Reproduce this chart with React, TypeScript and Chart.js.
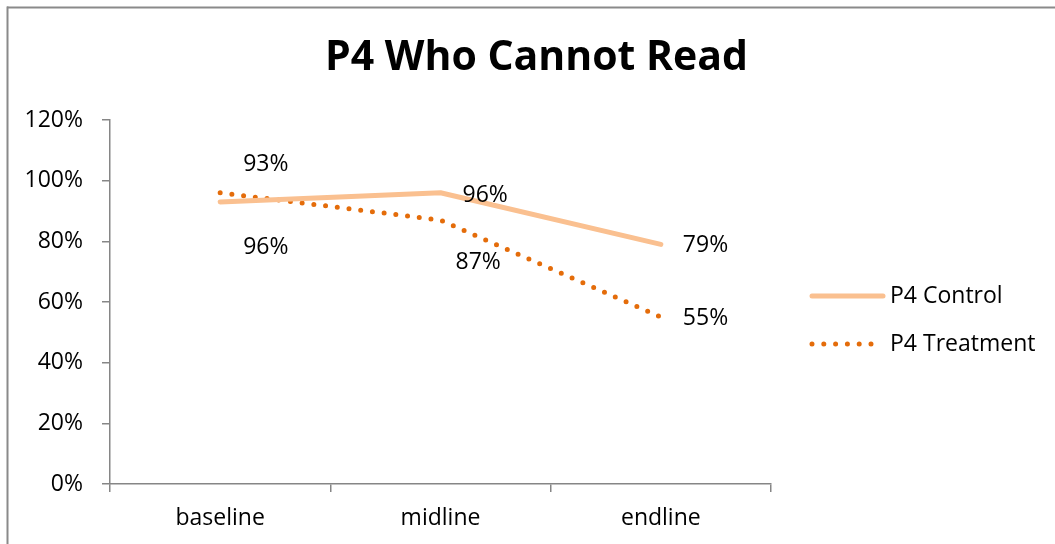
import React, { useEffect, useRef } from "react";
import { Chart, registerables } from "chart.js";

Chart.register(...registerables);

const titleText = "P4 Who Cannot Read";
const categories = ["baseline", "midline", "endline"];
const seriesNames = ["P4 Control", "P4 Treatment"];
const controlValues = [93, 96, 79];
const treatmentValues = [96, 87, 55];
const yTickValues = [0, 20, 40, 60, 80, 100, 120];

// label placement offsets relative to each point (px)
const labelOffsets = [
  [[23, -37], [22, 3], [22, 1]],
  [[23, 55], [15, 42], [22, 1]],
];

const W = 1055;
const H = 544;
const FONT = "'Open Sans', 'Noto Sans', sans-serif";
const AXIS_COLOR = "#868686";

const overlayPlugin = {
  id: "overlay",
  afterDatasetsDraw(chart: any) {
    const ctx = chart.ctx;
    ctx.save();
    ctx.font = `23px ${FONT}`;
    ctx.fillStyle = "#000";
    ctx.textAlign = "left";
    ctx.textBaseline = "middle";
    chart.data.datasets.forEach((ds: any, di: number) => {
      const meta = chart.getDatasetMeta(di);
      meta.data.forEach((pt: any, i: number) => {
        const [dx, dy] = labelOffsets[di][i];
        ctx.fillText(`${ds.data[i]}%`, pt.x + dx, pt.y + dy);
      });
    });
    ctx.restore();
  },
  afterDraw(chart: any) {
    const ctx = chart.ctx;
    ctx.save();
    // outer border (top and left visible)
    ctx.fillStyle = "#8a8a8a";
    ctx.fillRect(7, 6.5, W - 7, 2);
    ctx.fillRect(6.5, 6.5, 2, H - 6.5);
    // title
    ctx.fillStyle = "#000";
    ctx.font = `bold 41px ${FONT}`;
    ctx.textAlign = "center";
    ctx.textBaseline = "middle";
    ctx.fillText(titleText, 536.5, 58);
    // legend
    const legendYs = [296, 344];
    chart.data.datasets.forEach((ds: any, di: number) => {
      const y = legendYs[di];
      ctx.save();
      ctx.strokeStyle = ds.borderColor;
      ctx.lineWidth = ds.borderWidth;
      ctx.lineCap = ds.borderCapStyle;
      ctx.setLineDash(ds.borderDash || []);
      ctx.beginPath();
      ctx.moveTo(812, y);
      ctx.lineTo(di === 0 ? 883 : 877, y);
      ctx.stroke();
      ctx.restore();
      ctx.fillStyle = "#000";
      ctx.font = `23px ${FONT}`;
      ctx.textAlign = "left";
      ctx.textBaseline = "middle";
      ctx.fillText(ds.label, 890, y);
    });
    ctx.restore();
  },
};

export default function App() {
  const ref = useRef<HTMLCanvasElement | null>(null);
  useEffect(() => {
    if (!ref.current) return;
    const chart = new Chart(ref.current, {
      type: "line",
      data: {
        labels: categories,
        datasets: [
          {
            label: seriesNames[0],
            data: controlValues,
            borderColor: "#FAC090",
            backgroundColor: "#FAC090",
            borderWidth: 5,
            borderCapStyle: "round",
            borderJoinStyle: "round",
            pointRadius: 0,
            tension: 0,
          },
          {
            label: seriesNames[1],
            data: treatmentValues,
            borderColor: "#E46C0A",
            backgroundColor: "#E46C0A",
            borderWidth: 5,
            borderCapStyle: "round",
            borderDash: [0, 11.8],
            pointRadius: 0,
            tension: 0,
          },
        ],
      },
      options: {
        responsive: false,
        animation: false,
        devicePixelRatio: 1,
        layout: { padding: { left: 0, top: 120, right: W - 771, bottom: 0 } },
        plugins: {
          legend: { display: false },
          title: { display: false },
          tooltip: { enabled: false },
        },
        scales: {
          x: {
            type: "category",
            offset: true,
            grid: {
              display: true,
              offset: true,
              drawOnChartArea: false,
              drawTicks: true,
              tickLength: 8,
              color: AXIS_COLOR,
              lineWidth: 1.5,
            },
            border: { display: true, color: AXIS_COLOR, width: 1.5 },
            ticks: {
              color: "#000",
              font: { family: FONT, size: 23 },
              padding: 13,
              maxRotation: 0,
              autoSkip: false,
            },
            afterFit: (s: any) => {
              s.height = H - 484;
            },
          },
          y: {
            min: 0,
            max: 120,
            afterBuildTicks: (s: any) => {
              s.ticks = yTickValues.map((v) => ({ value: v }));
            },
            grid: {
              drawOnChartArea: false,
              drawTicks: true,
              tickLength: 8,
              color: AXIS_COLOR,
              lineWidth: 1.5,
            },
            border: { display: true, color: AXIS_COLOR, width: 1.5 },
            ticks: {
              color: "#000",
              font: { family: FONT, size: 23 },
              padding: 19,
              callback: (v: any) => `${v}%`,
            },
            afterFit: (s: any) => {
              s.width = 110;
            },
          },
        },
      },
      plugins: [overlayPlugin],
    } as any);
    return () => chart.destroy();
  }, []);
  return (
    <div style={{ position: "absolute", left: 0, top: 0, width: W, height: H, background: "#fff" }}>
      <canvas ref={ref} width={W} height={H} style={{ display: "block" }} />
    </div>
  );
}
